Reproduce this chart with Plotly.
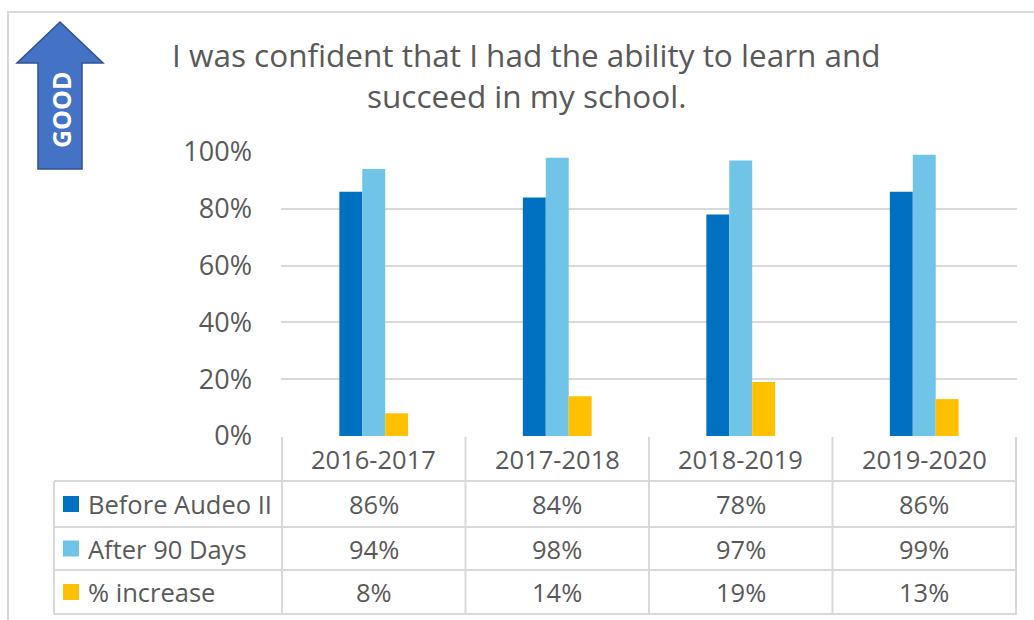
import plotly.graph_objects as go

# ---- data ----
categories = ["2016-2017", "2017-2018", "2018-2019", "2019-2020"]
series_names = ["Before Audeo II", "After 90 Days", "% increase"]
before = [0.86, 0.84, 0.78, 0.86]
after = [0.94, 0.98, 0.97, 0.99]
increase = [0.08, 0.14, 0.19, 0.13]
colors = ["#0070C0", "#70C4E8", "#FFC000"]
title_lines = ["I was confident that I had the ability to learn and",
               "succeed in my school."]
y_ticks = [0, 0.2, 0.4, 0.6, 0.8, 1.0]

W, H = 1034, 620
FONT = "Open Sans"
TXT = "#595959"
GRID = "#D9D9D9"


def px(x):
    return x / W


def py(y):
    return 1 - y / H


fig = go.Figure()
for name, vals, col in zip(series_names, [before, after, increase], colors):
    fig.add_trace(go.Bar(x=categories, y=vals, name=name, marker_color=col,
                         marker_line_width=0, showlegend=False))

shapes = []
annotations = []

# outer chart border
shapes.append(dict(type="rect", xref="paper", yref="paper",
                   x0=px(8), x1=px(1045), y0=py(12), y1=py(640),
                   line=dict(color=GRID, width=2), fillcolor="rgba(0,0,0,0)"))

# data table grid
header_top, rows_y = 437, [481, 527, 570, 614]
label_left = 54
n = len(categories)
for i in range(n + 1):
    shapes.append(dict(type="line", xref="x", yref="paper",
                       x0=i - 0.5, x1=i - 0.5, y0=py(header_top), y1=py(rows_y[-1]),
                       line=dict(color=GRID, width=2)))
shapes.append(dict(type="line", xref="paper", yref="paper",
                   x0=px(label_left), x1=px(label_left), y0=py(rows_y[0]), y1=py(rows_y[-1]),
                   line=dict(color=GRID, width=2)))
for ry in rows_y:
    shapes.append(dict(type="line", xref="paper", yref="paper",
                       x0=px(label_left), x1=px(1017), y0=py(ry), y1=py(ry),
                       line=dict(color=GRID, width=2)))

TFS = 25.5
for c in categories:
    annotations.append(dict(x=c, xref="x", y=py((header_top + rows_y[0]) / 2), yref="paper",
                            text=c, showarrow=False, font=dict(family=FONT, size=TFS, color=TXT),
                            xanchor="center", yanchor="middle"))
for r, (name, vals, col) in enumerate(zip(series_names, [before, after, increase], colors)):
    yc = (rows_y[r] + rows_y[r + 1]) / 2
    shapes.append(dict(type="rect", xref="paper", yref="paper",
                       x0=px(63), x1=px(79), y0=py(yc - 8), y1=py(yc + 8),
                       fillcolor=col, line=dict(width=0)))
    annotations.append(dict(x=px(86), xref="paper", y=py(yc), yref="paper", text=name,
                            showarrow=False, font=dict(family=FONT, size=TFS, color=TXT),
                            xanchor="left", yanchor="middle"))
    for c, v in zip(categories, vals):
        annotations.append(dict(x=c, xref="x", y=py(yc), yref="paper",
                                text=f"{round(v * 100)}%", showarrow=False,
                                font=dict(family=FONT, size=TFS, color=TXT),
                                xanchor="center", yanchor="middle"))

# title
for line, ty in zip(title_lines, [54, 96]):
    annotations.append(dict(x=px(526), xref="paper", y=py(ty), yref="paper", text=line,
                            showarrow=False, font=dict(family=FONT, size=31.5, color=TXT),
                            xanchor="center", yanchor="middle"))

# GOOD arrow
pts = [(60, 22), (103, 63), (82, 63), (82, 169), (38, 169), (38, 63), (17, 63)]
path = "M " + " L ".join(f"{px(x)},{py(y)}" for x, y in pts) + " Z"
shapes.append(dict(type="path", xref="paper", yref="paper", path=path,
                   fillcolor="#4472C4", line=dict(color="#2F528F", width=1.5)))
annotations.append(dict(x=px(61), xref="paper", y=py(110), yref="paper", text="<b>GOOD</b>",
                        textangle=-90, showarrow=False,
                        font=dict(family=FONT, size=25, color="white"),
                        xanchor="center", yanchor="middle"))

fig.update_layout(
    width=W, height=H, margin=dict(l=0, r=0, t=0, b=0, pad=0, autoexpand=False),
    paper_bgcolor="white", plot_bgcolor="white",
    barmode="group", bargap=0.625, bargroupgap=0,
    shapes=shapes, annotations=annotations,
    xaxis=dict(domain=[px(281), px(1017)], showticklabels=False, showgrid=False,
               zeroline=False, showline=False, ticks="", automargin=False),
    yaxis=dict(domain=[py(436), py(152)], range=[0, 1], tickvals=y_ticks,
               tickformat=".0%", showgrid=True, gridcolor=GRID, gridwidth=2,
               zeroline=False, showline=False, ticklabelstandoff=28, automargin=False,
               tickfont=dict(family=FONT, size=27, color=TXT)),
)

post = ("document.documentElement.style.margin='0';document.body.style.margin='0';"
        "document.body.style.padding='0';document.documentElement.style.overflow='hidden';"
        "document.body.style.overflow='hidden';")
fig.write_html("out.html", post_script=post, config={"displayModeBar": False})
